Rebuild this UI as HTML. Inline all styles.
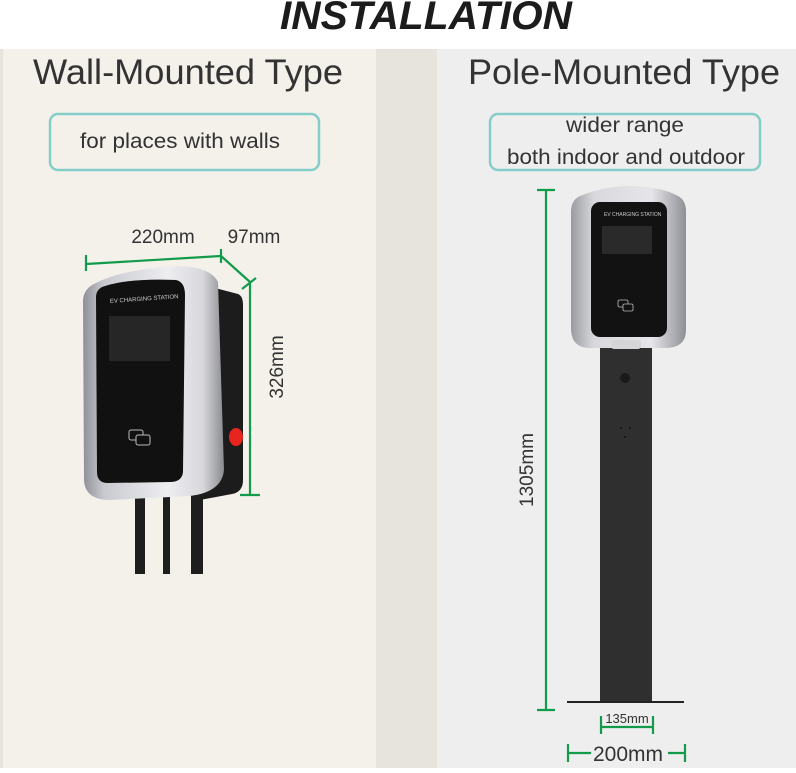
<!DOCTYPE html>
<html><head><meta charset="utf-8"><style>
body{margin:0;width:796px;height:768px;overflow:hidden;background:#fff;font-family:"Liberation Sans",sans-serif}
</style></head><body>
<svg width="796" height="768" viewBox="0 0 796 768" xmlns="http://www.w3.org/2000/svg" font-family="Liberation Sans, sans-serif">
<defs>
<linearGradient id="silv" x1="0" x2="1" y1="0" y2="0">
<stop offset="0" stop-color="#8e9097"/><stop offset="0.15" stop-color="#c9cacf"/><stop offset="0.6" stop-color="#eeeef1"/><stop offset="0.85" stop-color="#d8d8dc"/><stop offset="1" stop-color="#8a8b90"/></linearGradient>
<linearGradient id="silv2" x1="0" x2="1" y1="0" y2="0">
<stop offset="0" stop-color="#9a9ba1"/><stop offset="0.2" stop-color="#d9d9dd"/><stop offset="0.7" stop-color="#e6e6ea"/><stop offset="1" stop-color="#8e8f95"/></linearGradient>
</defs>
<rect x="0" y="0" width="796" height="49" fill="#fff"/>
<rect x="0" y="49" width="3" height="719" fill="#e6e2dc"/>
<rect x="3" y="49" width="373" height="719" fill="#f4f0ea"/>
<rect x="376" y="49" width="61" height="719" fill="#e7e4de"/>
<rect x="437" y="49" width="359" height="719" fill="#eeeeee"/>
<text x="426" y="29" text-anchor="middle" font-size="40" font-weight="bold" font-style="italic" fill="#1c1c1c" textLength="292" lengthAdjust="spacingAndGlyphs">INSTALLATION</text>
<text x="188" y="84" text-anchor="middle" font-size="35" fill="#333" textLength="310" lengthAdjust="spacingAndGlyphs">Wall-Mounted Type</text>
<text x="624" y="84" text-anchor="middle" font-size="35" fill="#333" textLength="312" lengthAdjust="spacingAndGlyphs">Pole-Mounted Type</text>
<rect x="50" y="114" width="269" height="56" rx="8" fill="none" stroke="#85cdc9" stroke-width="2.5"/>
<text x="180" y="148" text-anchor="middle" font-size="21" fill="#333" textLength="200" lengthAdjust="spacingAndGlyphs">for places with walls</text>
<rect x="490" y="114" width="270" height="56" rx="8" fill="none" stroke="#85cdc9" stroke-width="2.5"/>
<text x="625" y="132" text-anchor="middle" font-size="21" fill="#333" textLength="118" lengthAdjust="spacingAndGlyphs">wider range</text>
<text x="626" y="164" text-anchor="middle" font-size="21" fill="#333" textLength="238" lengthAdjust="spacingAndGlyphs">both indoor and outdoor</text>

<!-- wall unit -->
<rect x="135" y="490" width="10" height="84" fill="#1e1e1e"/>
<rect x="163" y="490" width="7" height="84" fill="#1e1e1e"/>
<rect x="191" y="490" width="12" height="84" fill="#1e1e1e"/>
<path d="M215 288 L238 294 Q243 296 243 305 L243 480 Q243 492 232 494 L200 500 Z" fill="#1c1c1c"/>
<ellipse cx="236" cy="437" rx="7" ry="9" fill="#e8241f"/>
<path d="M96 283 Q120 270 175 266 Q210 266 218 282 L224 470 Q222 492 190 496 L110 500 Q85 500 84 480 L83 300 Q84 288 96 283 Z" fill="url(#silv)"/>
<path d="M105 286 Q130 278 176 280 Q185 282 185 295 L183 472 Q182 482 170 482 L108 483 Q97 483 97 472 L96 296 Q97 288 105 286 Z" fill="#111"/>
<text x="110" y="303" font-size="6" fill="#ccc" transform="rotate(-4 110 303)">EV CHARGING STATION</text>
<rect x="109" y="316" width="61" height="45" fill="#262626"/>
<rect x="129" y="430" width="14" height="10" rx="2" fill="none" stroke="#bbb" stroke-width="1"/>
<rect x="136" y="435" width="14" height="10" rx="2" fill="#111" stroke="#bbb" stroke-width="1"/>
<!-- wall dims -->
<g stroke="#119b4a" stroke-width="2.2" fill="none">
<line x1="86" y1="264" x2="221" y2="256"/>
<line x1="86" y1="255" x2="86" y2="271"/>
<line x1="221" y1="249" x2="221" y2="263"/>
<line x1="221" y1="256" x2="250" y2="282"/>
<line x1="242" y1="289" x2="256" y2="278"/>
<line x1="250" y1="282" x2="250" y2="495"/>
<line x1="240" y1="495" x2="260" y2="495"/>
</g>
<text x="163" y="243" text-anchor="middle" font-size="19" fill="#333">220mm</text>
<text x="254" y="243" text-anchor="middle" font-size="19" fill="#333">97mm</text>
<text transform="translate(283 367) rotate(-90)" text-anchor="middle" font-size="19" fill="#333">326mm</text>

<!-- pole unit -->
<rect x="600" y="345" width="52" height="357" fill="#2f2f2f"/>
<circle cx="625" cy="378" r="5" fill="#1a1a1a"/>
<circle cx="621" cy="428" r="1" fill="#111"/><circle cx="630" cy="428" r="1" fill="#111"/><circle cx="625" cy="437" r="1" fill="#111"/>
<line x1="567" y1="702" x2="684" y2="702" stroke="#222" stroke-width="2"/>
<path d="M580 196 Q605 186 630 186 Q660 186 678 196 Q686 200 686 212 L686 330 Q686 348 665 348 L590 348 Q572 348 571 330 L571 212 Q571 200 580 196 Z" fill="url(#silv2)"/>
<rect x="611" y="340" width="30" height="9" rx="3" fill="#d5d5d8"/>
<rect x="591" y="202" width="76" height="135" rx="9" fill="#121212"/>
<text x="604" y="216" font-size="5" fill="#ccc">EV CHARGING STATION</text>
<rect x="602" y="226" width="50" height="28" fill="#2a2a2a"/>
<rect x="618" y="300" width="10" height="7" rx="1.5" fill="none" stroke="#bbb" stroke-width="0.8"/>
<rect x="623" y="304" width="10" height="7" rx="1.5" fill="#111" stroke="#bbb" stroke-width="0.8"/>
<g stroke="#119b4a" stroke-width="2.2" fill="none">
<line x1="546" y1="190" x2="546" y2="710"/>
<line x1="537" y1="190" x2="555" y2="190"/>
<line x1="537" y1="710" x2="555" y2="710"/>
<line x1="601" y1="716" x2="601" y2="734"/>
<line x1="653" y1="716" x2="653" y2="734"/>
<line x1="601" y1="727" x2="653" y2="727"/>
<line x1="568" y1="744" x2="568" y2="762"/>
<line x1="685" y1="744" x2="685" y2="762"/>
<line x1="568" y1="753" x2="591" y2="753"/>
<line x1="668" y1="753" x2="685" y2="753"/>
</g>
<text transform="translate(533 470) rotate(-90)" text-anchor="middle" font-size="19" fill="#333">1305mm</text>
<text x="627" y="723" text-anchor="middle" font-size="13" fill="#333">135mm</text>
<text x="628" y="761" text-anchor="middle" font-size="21" fill="#333">200mm</text>
</svg>
</body></html>
